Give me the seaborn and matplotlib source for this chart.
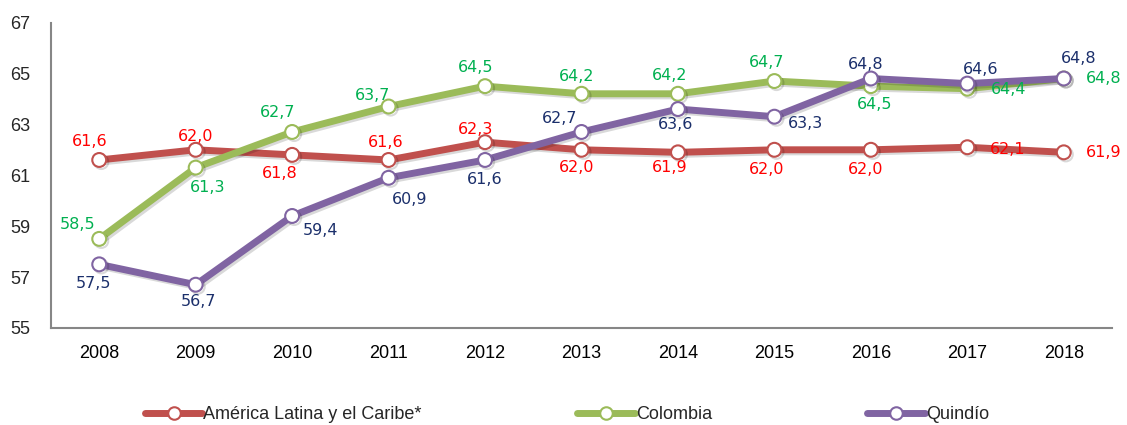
import numpy as np
import pandas as pd
import matplotlib
matplotlib.use("Agg")
import matplotlib.pyplot as plt
import matplotlib.patheffects as pe
from matplotlib.lines import Line2D
import seaborn as sns

years = ["2008", "2009", "2010", "2011", "2012", "2013", "2014", "2015", "2016", "2017", "2018"]
america_latina = [61.6, 62.0, 61.8, 61.6, 62.3, 62.0, 61.9, 62.0, 62.0, 62.1, 61.9]
colombia = [58.5, 61.3, 62.7, 63.7, 64.5, 64.2, 64.2, 64.7, 64.5, 64.4, 64.8]
quindio = [57.5, 56.7, 59.4, 60.9, 61.6, 62.7, 63.6, 63.3, 64.8, 64.6, 64.8]
series_names = ["América Latina y el Caribe*", "Colombia", "Quindío"]

LINE_COLORS = ["#C0504D", "#9BBB59", "#8064A2"]
LABEL_COLORS = ["#FF0000", "#00B050", "#1B2F6B"]

# label offsets from each point, in pixels (dx right, dy down)
LABEL_OFFSETS = [
    [(-10, -18), (0, -13), (-12, 19), (-3, -17), (-9, -13), (-5, 18),
     (-8, 15), (-8, 20), (-5, 20), (40, 2), (40, 0)],
    [(-22, -14), (12, 20), (-15, -19), (-16, -11), (-9, -19), (-5, -17),
     (-8, -18), (-8, -19), (4, 18), (41, 1), (40, 0)],
    [(-6, 19), (3, 17), (28, 15), (21, 22), (0, 20), (-22, -13),
     (-2, 15), (31, 7), (-5, -14), (13, -14), (15, -20)],
]

df = pd.DataFrame({
    "year": years * 3,
    "valor": america_latina + colombia + quindio,
    "serie": np.repeat(series_names, len(years)),
})

sns.set_style("white")
plt.rcParams["font.family"] = ["Liberation Sans", "DejaVu Sans"]

fig = plt.figure(figsize=(11.27, 4.25), dpi=100)
ax = fig.add_axes([51 / 1127, 1 - 328 / 425, 1061 / 1127, 305.5 / 425])

shadow = [pe.SimpleLineShadow(offset=(1.5, -1.5), alpha=0.15, shadow_color="black"), pe.Normal()]

for i, name in enumerate(series_names):
    sub = df[df["serie"] == name]
    sns.lineplot(data=sub, x="year", y="valor", ax=ax, color=LINE_COLORS[i],
                 linewidth=5, marker="o", markersize=10, markerfacecolor="white",
                 markeredgecolor=LINE_COLORS[i], markeredgewidth=1.5,
                 path_effects=shadow, zorder=3 + i, sort=False)
    for j, v in enumerate(sub["valor"]):
        dx, dy = LABEL_OFFSETS[i][j]
        ax.annotate(f"{v:.1f}".replace(".", ","), (j, v),
                    xytext=(dx * 0.72, -dy * 0.72), textcoords="offset points",
                    ha="center", va="center", fontsize=11.5, color=LABEL_COLORS[i],
                    family="DejaVu Sans", zorder=10)

ax.set_xlim(-0.5, len(years) - 0.5)
ax.set_ylim(55, 67)
ax.set_yticks(np.arange(55, 68, 2))
ax.set_xlabel("")
ax.set_ylabel("")
ax.set_xticks(np.arange(len(years)))
ax.set_xticklabels(years)
ax.set_xticks(np.arange(-0.5, len(years)), minor=True)
ax.tick_params(axis="x", which="major", length=0, labelsize=13, pad=12, colors="black")
ax.tick_params(axis="x", which="minor", length=6, width=1.5, color="#868686", direction="out")
ax.tick_params(axis="y", length=5, width=1.5, color="#868686", labelsize=13, pad=10,
               direction="out")
for s in ["top", "right"]:
    ax.spines[s].set_visible(False)
for s in ["left", "bottom"]:
    ax.spines[s].set_color("#868686")
    ax.spines[s].set_linewidth(1.5)
ax.grid(False)

handles = [Line2D([0], [0], color=c, linewidth=5, marker="o", markersize=9,
                  markerfacecolor="white", markeredgecolor=c, markeredgewidth=1.5)
           for c in LINE_COLORS]
fig.legend(handles, series_names, loc="center", bbox_to_anchor=(0.503, 0.025),
           ncol=3, frameon=False, fontsize=13, handlelength=3.2, handletextpad=0.05,
           columnspacing=8.6)

fig.savefig("out.png", dpi=100)
